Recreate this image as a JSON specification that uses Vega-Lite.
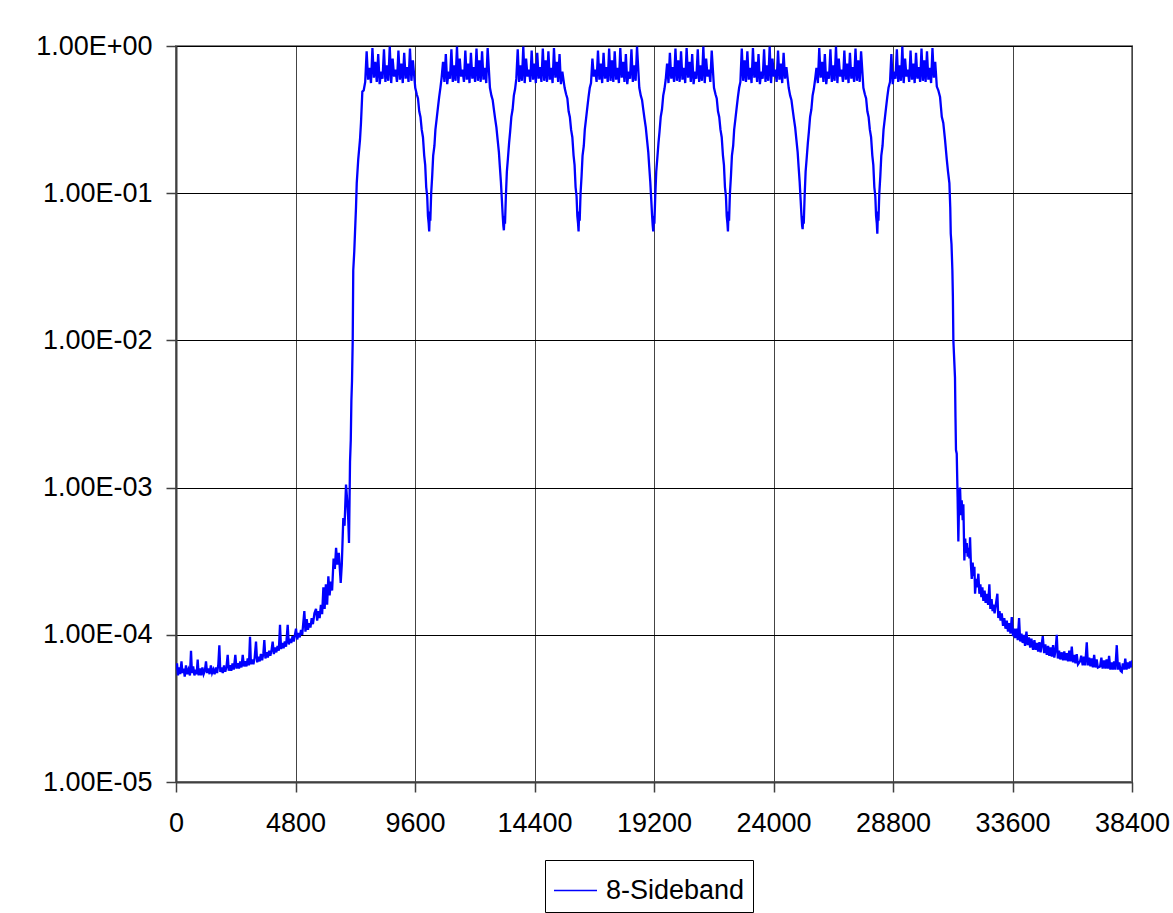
{
"$schema": "https://vega.github.io/schema/vega-lite/v6.json",
"width": 956, "height": 736,
"autosize": {"type": "none"},
"padding": {"left": 176, "top": 46, "right": 41, "bottom": 131},
"background": "white",
"config": {"view": {"stroke": "#808080", "strokeWidth": 2}, "font": "Liberation Sans"},
"data": {"values": [
{"x":0,"y":5.8e-5},{"x":40,"y":6.4e-5},{"x":80,"y":5.3e-5},{"x":130,"y":6.0e-5},{"x":170,"y":5.4e-5},{"x":220,"y":6.6e-5},{"x":260,"y":5.5e-5},{"x":310,"y":5.9e-5},{"x":350,"y":5.2e-5},{"x":400,"y":6.2e-5},{"x":450,"y":5.4e-5},{"x":500,"y":5.8e-5},{"x":560,"y":5.3e-5},{"x":603,"y":7.8e-5},{"x":640,"y":5.5e-5},{"x":690,"y":6.1e-5},{"x":740,"y":5.3e-5},{"x":790,"y":5.8e-5},{"x":830,"y":5.4e-5},{"x":871,"y":6.8e-5},{"x":910,"y":5.3e-5},{"x":960,"y":5.9e-5},{"x":1010,"y":5.3e-5},{"x":1060,"y":6.0e-5},{"x":1110,"y":5.4e-5},{"x":1160,"y":5.7e-5},{"x":1205,"y":6.6e-5},{"x":1250,"y":5.5e-5},{"x":1300,"y":5.9e-5},{"x":1350,"y":5.4e-5},{"x":1400,"y":6.2e-5},{"x":1450,"y":5.5e-5},{"x":1500,"y":5.8e-5},{"x":1550,"y":5.4e-5},{"x":1600,"y":6.0e-5},{"x":1650,"y":5.5e-5},{"x":1700,"y":6.3e-5},{"x":1741,"y":8.5e-5},{"x":1780,"y":5.6e-5},{"x":1830,"y":6.0e-5},{"x":1880,"y":5.5e-5},{"x":1930,"y":6.2e-5},{"x":1980,"y":5.6e-5},{"x":2030,"y":6.1e-5},{"x":2076,"y":7.3e-5},{"x":2120,"y":5.7e-5},{"x":2170,"y":6.2e-5},{"x":2220,"y":5.7e-5},{"x":2270,"y":6.4e-5},{"x":2320,"y":5.8e-5},{"x":2383,"y":7.3e-5},{"x":2430,"y":5.9e-5},{"x":2480,"y":6.4e-5},{"x":2530,"y":5.9e-5},{"x":2580,"y":6.6e-5},{"x":2630,"y":6.0e-5},{"x":2680,"y":7.3e-5},{"x":2730,"y":6.1e-5},{"x":2780,"y":6.6e-5},{"x":2830,"y":6.1e-5},{"x":2880,"y":6.9e-5},{"x":2930,"y":6.2e-5},{"x":2973,"y":9.7e-5},{"x":3010,"y":6.3e-5},{"x":3060,"y":6.8e-5},{"x":3110,"y":6.3e-5},{"x":3160,"y":7.0e-5},{"x":3214,"y":9.0e-5},{"x":3260,"y":6.5e-5},{"x":3310,"y":7.1e-5},{"x":3360,"y":6.6e-5},{"x":3410,"y":7.4e-5},{"x":3460,"y":6.7e-5},{"x":3510,"y":7.5e-5},{"x":3548,"y":9.2e-5},{"x":3590,"y":6.9e-5},{"x":3640,"y":7.6e-5},{"x":3690,"y":7.0e-5},{"x":3740,"y":7.8e-5},{"x":3790,"y":7.2e-5},{"x":3840,"y":7.9e-5},{"x":3883,"y":9.0e-5},{"x":3930,"y":7.4e-5},{"x":3980,"y":8.2e-5},{"x":4030,"y":7.6e-5},{"x":4080,"y":8.4e-5},{"x":4130,"y":7.8e-5},{"x":4178,"y":1.17e-4},{"x":4220,"y":8.0e-5},{"x":4270,"y":8.8e-5},{"x":4320,"y":8.1e-5},{"x":4370,"y":9.0e-5},{"x":4420,"y":8.3e-5},{"x":4486,"y":1.17e-4},{"x":4530,"y":8.6e-5},{"x":4580,"y":9.4e-5},{"x":4630,"y":8.8e-5},{"x":4680,"y":9.8e-5},{"x":4730,"y":9.0e-5},{"x":4820,"y":1.1e-4},{"x":4870,"y":9.3e-5},{"x":4920,"y":1.03e-4},{"x":4970,"y":9.6e-5},{"x":5020,"y":1.08e-4},{"x":5070,"y":1.0e-4},{"x":5155,"y":1.45e-4},{"x":5200,"y":1.05e-4},{"x":5250,"y":1.28e-4},{"x":5300,"y":1.08e-4},{"x":5350,"y":1.2e-4},{"x":5400,"y":1.12e-4},{"x":5450,"y":1.3e-4},{"x":5500,"y":1.18e-4},{"x":5560,"y":1.4e-4},{"x":5624,"y":1.5e-4},{"x":5670,"y":1.25e-4},{"x":5720,"y":1.45e-4},{"x":5770,"y":1.3e-4},{"x":5820,"y":1.6e-4},{"x":5870,"y":1.38e-4},{"x":5920,"y":2.1e-4},{"x":5970,"y":1.5e-4},{"x":6020,"y":2.2e-4},{"x":6070,"y":1.6e-4},{"x":6120,"y":2.5e-4},{"x":6170,"y":1.85e-4},{"x":6220,"y":2.3e-4},{"x":6270,"y":2.0e-4},{"x":6330,"y":3.3e-4},{"x":6380,"y":2.8e-4},{"x":6430,"y":3.9e-4},{"x":6480,"y":3.0e-4},{"x":6540,"y":3.6e-4},{"x":6616,"y":2.25e-4},{"x":6660,"y":3.0e-4},{"x":6720,"y":6.2e-4},{"x":6770,"y":5.5e-4},{"x":6829,"y":1.05e-3},{"x":6880,"y":8e-4},{"x":6920,"y":6e-4},{"x":6949,"y":4.2e-4},{"x":6990,"y":1.5e-3},{"x":7020,"y":2.1e-3},{"x":7045,"y":3.9e-3},{"x":7070,"y":5.3e-3},{"x":7098,"y":1.0e-2},{"x":7120,"y":3.0e-2},{"x":7160,"y":4.0e-2},{"x":7190,"y":5.4e-2},{"x":7230,"y":8.0e-2},{"x":7260,"y":0.117},{"x":7320,"y":0.17},{"x":7390,"y":0.23},{"x":7430,"y":0.3},{"x":7485,"y":0.49},{"x":7540,"y":0.5},
{"x":7600,"y":0.57},{"x":7658,"y":0.92},{"x":7716,"y":0.59},{"x":7774,"y":0.71},{"x":7832,"y":0.56},{"x":7890,"y":0.97},{"x":7948,"y":0.61},{"x":8006,"y":0.78},{"x":8064,"y":0.57},{"x":8122,"y":0.88},{"x":8180,"y":0.55},{"x":8238,"y":0.67},{"x":8296,"y":0.60},{"x":8354,"y":0.95},{"x":8412,"y":0.57},{"x":8470,"y":0.74},{"x":8528,"y":0.58},{"x":8586,"y":0.99},{"x":8644,"y":0.56},{"x":8702,"y":0.82},{"x":8760,"y":0.62},{"x":8818,"y":0.69},{"x":8876,"y":0.57},{"x":8934,"y":0.93},{"x":8992,"y":0.59},{"x":9050,"y":0.76},{"x":9108,"y":0.56},{"x":9166,"y":0.90},{"x":9224,"y":0.60},{"x":9282,"y":0.72},{"x":9340,"y":0.57},{"x":9398,"y":0.96},{"x":9456,"y":0.58},{"x":9514,"y":0.80},
{"x":9610,"y":0.52},{"x":9670,"y":0.47},{"x":9720,"y":0.44},{"x":9770,"y":0.36},{"x":9820,"y":0.33},{"x":9870,"y":0.27},{"x":9920,"y":0.24},{"x":9970,"y":0.18},{"x":10010,"y":0.155},{"x":10050,"y":0.11},{"x":10090,"y":0.095},{"x":10120,"y":0.07},{"x":10150,"y":0.062},{"x":10170,"y":0.055},{"x":10195,"y":0.075},{"x":10215,"y":0.065},{"x":10250,"y":0.1},{"x":10290,"y":0.13},{"x":10330,"y":0.18},{"x":10380,"y":0.21},{"x":10420,"y":0.27},{"x":10470,"y":0.32},{"x":10520,"y":0.38},{"x":10570,"y":0.45},{"x":10620,"y":0.52},
{"x":10670,"y":0.61},{"x":10726,"y":0.78},{"x":10782,"y":0.57},{"x":10838,"y":0.88},{"x":10894,"y":0.55},{"x":10950,"y":0.67},{"x":11006,"y":0.60},{"x":11062,"y":0.95},{"x":11118,"y":0.57},{"x":11174,"y":0.74},{"x":11230,"y":0.58},{"x":11286,"y":0.99},{"x":11342,"y":0.56},{"x":11398,"y":0.82},{"x":11454,"y":0.62},{"x":11510,"y":0.69},{"x":11566,"y":0.57},{"x":11622,"y":0.93},{"x":11678,"y":0.59},{"x":11734,"y":0.76},{"x":11790,"y":0.56},{"x":11846,"y":0.90},{"x":11902,"y":0.60},{"x":11958,"y":0.72},{"x":12014,"y":0.57},{"x":12070,"y":0.96},{"x":12126,"y":0.58},{"x":12182,"y":0.80},{"x":12238,"y":0.57},{"x":12294,"y":0.92},{"x":12350,"y":0.59},{"x":12406,"y":0.71},{"x":12462,"y":0.56},{"x":12518,"y":0.97},
{"x":12610,"y":0.52},{"x":12670,"y":0.46},{"x":12720,"y":0.43},{"x":12770,"y":0.37},{"x":12820,"y":0.32},{"x":12870,"y":0.28},{"x":12920,"y":0.23},{"x":12970,"y":0.19},{"x":13010,"y":0.15},{"x":13050,"y":0.12},{"x":13090,"y":0.09},{"x":13120,"y":0.072},{"x":13150,"y":0.06},{"x":13170,"y":0.056},{"x":13195,"y":0.07},{"x":13215,"y":0.062},{"x":13250,"y":0.095},{"x":13290,"y":0.14},{"x":13330,"y":0.17},{"x":13380,"y":0.22},{"x":13420,"y":0.26},{"x":13470,"y":0.33},{"x":13520,"y":0.37},{"x":13570,"y":0.46},{"x":13620,"y":0.51},
{"x":13670,"y":0.60},{"x":13726,"y":0.95},{"x":13782,"y":0.57},{"x":13838,"y":0.74},{"x":13894,"y":0.58},{"x":13950,"y":0.99},{"x":14006,"y":0.56},{"x":14062,"y":0.82},{"x":14118,"y":0.62},{"x":14174,"y":0.69},{"x":14230,"y":0.57},{"x":14286,"y":0.93},{"x":14342,"y":0.59},{"x":14398,"y":0.76},{"x":14454,"y":0.56},{"x":14510,"y":0.90},{"x":14566,"y":0.60},{"x":14622,"y":0.72},{"x":14678,"y":0.57},{"x":14734,"y":0.96},{"x":14790,"y":0.58},{"x":14846,"y":0.80},{"x":14902,"y":0.57},{"x":14958,"y":0.92},{"x":15014,"y":0.59},{"x":15070,"y":0.71},{"x":15126,"y":0.56},{"x":15182,"y":0.97},{"x":15238,"y":0.61},{"x":15294,"y":0.78},{"x":15350,"y":0.57},{"x":15406,"y":0.88},{"x":15462,"y":0.55},{"x":15518,"y":0.67},
{"x":15610,"y":0.52},{"x":15670,"y":0.47},{"x":15720,"y":0.44},{"x":15770,"y":0.36},{"x":15820,"y":0.33},{"x":15870,"y":0.27},{"x":15920,"y":0.24},{"x":15970,"y":0.18},{"x":16010,"y":0.155},{"x":16050,"y":0.11},{"x":16090,"y":0.095},{"x":16120,"y":0.07},{"x":16150,"y":0.062},{"x":16170,"y":0.055},{"x":16195,"y":0.075},{"x":16215,"y":0.065},{"x":16250,"y":0.1},{"x":16290,"y":0.13},{"x":16330,"y":0.18},{"x":16380,"y":0.21},{"x":16420,"y":0.27},{"x":16470,"y":0.32},{"x":16520,"y":0.38},{"x":16570,"y":0.45},{"x":16620,"y":0.52},
{"x":16670,"y":0.56},{"x":16726,"y":0.82},{"x":16782,"y":0.62},{"x":16838,"y":0.69},{"x":16894,"y":0.57},{"x":16950,"y":0.93},{"x":17006,"y":0.59},{"x":17062,"y":0.76},{"x":17118,"y":0.56},{"x":17174,"y":0.90},{"x":17230,"y":0.60},{"x":17286,"y":0.72},{"x":17342,"y":0.57},{"x":17398,"y":0.96},{"x":17454,"y":0.58},{"x":17510,"y":0.80},{"x":17566,"y":0.57},{"x":17622,"y":0.92},{"x":17678,"y":0.59},{"x":17734,"y":0.71},{"x":17790,"y":0.56},{"x":17846,"y":0.97},{"x":17902,"y":0.61},{"x":17958,"y":0.78},{"x":18014,"y":0.57},{"x":18070,"y":0.88},{"x":18126,"y":0.55},{"x":18182,"y":0.67},{"x":18238,"y":0.60},{"x":18294,"y":0.95},{"x":18350,"y":0.57},{"x":18406,"y":0.74},{"x":18462,"y":0.58},{"x":18518,"y":0.99},
{"x":18610,"y":0.52},{"x":18670,"y":0.46},{"x":18720,"y":0.43},{"x":18770,"y":0.37},{"x":18820,"y":0.32},{"x":18870,"y":0.28},{"x":18920,"y":0.23},{"x":18970,"y":0.19},{"x":19010,"y":0.15},{"x":19050,"y":0.12},{"x":19090,"y":0.09},{"x":19120,"y":0.072},{"x":19150,"y":0.06},{"x":19170,"y":0.055},{"x":19195,"y":0.07},{"x":19215,"y":0.062},{"x":19250,"y":0.095},{"x":19290,"y":0.14},{"x":19330,"y":0.17},{"x":19380,"y":0.22},{"x":19420,"y":0.26},{"x":19470,"y":0.33},{"x":19520,"y":0.37},{"x":19570,"y":0.46},{"x":19620,"y":0.51},
{"x":19670,"y":0.59},{"x":19726,"y":0.76},{"x":19782,"y":0.56},{"x":19838,"y":0.90},{"x":19894,"y":0.60},{"x":19950,"y":0.72},{"x":20006,"y":0.57},{"x":20062,"y":0.96},{"x":20118,"y":0.58},{"x":20174,"y":0.80},{"x":20230,"y":0.57},{"x":20286,"y":0.92},{"x":20342,"y":0.59},{"x":20398,"y":0.71},{"x":20454,"y":0.56},{"x":20510,"y":0.97},{"x":20566,"y":0.61},{"x":20622,"y":0.78},{"x":20678,"y":0.57},{"x":20734,"y":0.88},{"x":20790,"y":0.55},{"x":20846,"y":0.67},{"x":20902,"y":0.60},{"x":20958,"y":0.95},{"x":21014,"y":0.57},{"x":21070,"y":0.74},{"x":21126,"y":0.58},{"x":21182,"y":0.99},{"x":21238,"y":0.56},{"x":21294,"y":0.82},{"x":21350,"y":0.62},{"x":21406,"y":0.69},{"x":21462,"y":0.57},{"x":21518,"y":0.93},
{"x":21610,"y":0.52},{"x":21670,"y":0.47},{"x":21720,"y":0.44},{"x":21770,"y":0.36},{"x":21820,"y":0.33},{"x":21870,"y":0.27},{"x":21920,"y":0.24},{"x":21970,"y":0.18},{"x":22010,"y":0.155},{"x":22050,"y":0.11},{"x":22090,"y":0.095},{"x":22120,"y":0.07},{"x":22150,"y":0.062},{"x":22170,"y":0.055},{"x":22195,"y":0.075},{"x":22215,"y":0.065},{"x":22250,"y":0.1},{"x":22290,"y":0.13},{"x":22330,"y":0.18},{"x":22380,"y":0.21},{"x":22420,"y":0.27},{"x":22470,"y":0.32},{"x":22520,"y":0.38},{"x":22570,"y":0.45},{"x":22620,"y":0.52},
{"x":22670,"y":0.57},{"x":22726,"y":0.96},{"x":22782,"y":0.58},{"x":22838,"y":0.80},{"x":22894,"y":0.57},{"x":22950,"y":0.92},{"x":23006,"y":0.59},{"x":23062,"y":0.71},{"x":23118,"y":0.56},{"x":23174,"y":0.97},{"x":23230,"y":0.61},{"x":23286,"y":0.78},{"x":23342,"y":0.57},{"x":23398,"y":0.88},{"x":23454,"y":0.55},{"x":23510,"y":0.67},{"x":23566,"y":0.60},{"x":23622,"y":0.95},{"x":23678,"y":0.57},{"x":23734,"y":0.74},{"x":23790,"y":0.58},{"x":23846,"y":0.99},{"x":23902,"y":0.56},{"x":23958,"y":0.82},{"x":24014,"y":0.62},{"x":24070,"y":0.69},{"x":24126,"y":0.57},{"x":24182,"y":0.93},{"x":24238,"y":0.59},{"x":24294,"y":0.76},{"x":24350,"y":0.56},{"x":24406,"y":0.90},{"x":24462,"y":0.60},{"x":24518,"y":0.72},
{"x":24610,"y":0.52},{"x":24670,"y":0.46},{"x":24720,"y":0.43},{"x":24770,"y":0.37},{"x":24820,"y":0.32},{"x":24870,"y":0.28},{"x":24920,"y":0.23},{"x":24970,"y":0.19},{"x":25010,"y":0.15},{"x":25050,"y":0.12},{"x":25090,"y":0.09},{"x":25120,"y":0.072},{"x":25150,"y":0.06},{"x":25170,"y":0.057},{"x":25195,"y":0.07},{"x":25215,"y":0.062},{"x":25250,"y":0.095},{"x":25290,"y":0.14},{"x":25330,"y":0.17},{"x":25380,"y":0.22},{"x":25420,"y":0.26},{"x":25470,"y":0.33},{"x":25520,"y":0.37},{"x":25570,"y":0.46},{"x":25620,"y":0.51},
{"x":25670,"y":0.59},{"x":25726,"y":0.71},{"x":25782,"y":0.56},{"x":25838,"y":0.97},{"x":25894,"y":0.61},{"x":25950,"y":0.78},{"x":26006,"y":0.57},{"x":26062,"y":0.88},{"x":26118,"y":0.55},{"x":26174,"y":0.67},{"x":26230,"y":0.60},{"x":26286,"y":0.95},{"x":26342,"y":0.57},{"x":26398,"y":0.74},{"x":26454,"y":0.58},{"x":26510,"y":0.99},{"x":26566,"y":0.56},{"x":26622,"y":0.82},{"x":26678,"y":0.62},{"x":26734,"y":0.69},{"x":26790,"y":0.57},{"x":26846,"y":0.93},{"x":26902,"y":0.59},{"x":26958,"y":0.76},{"x":27014,"y":0.56},{"x":27070,"y":0.90},{"x":27126,"y":0.60},{"x":27182,"y":0.72},{"x":27238,"y":0.57},{"x":27294,"y":0.96},{"x":27350,"y":0.58},{"x":27406,"y":0.80},{"x":27462,"y":0.57},{"x":27518,"y":0.92},
{"x":27610,"y":0.52},{"x":27670,"y":0.47},{"x":27720,"y":0.44},{"x":27770,"y":0.36},{"x":27820,"y":0.33},{"x":27870,"y":0.27},{"x":27920,"y":0.24},{"x":27970,"y":0.18},{"x":28010,"y":0.155},{"x":28050,"y":0.11},{"x":28090,"y":0.095},{"x":28120,"y":0.07},{"x":28150,"y":0.062},{"x":28170,"y":0.053},{"x":28195,"y":0.075},{"x":28215,"y":0.065},{"x":28250,"y":0.1},{"x":28290,"y":0.13},{"x":28330,"y":0.18},{"x":28380,"y":0.21},{"x":28420,"y":0.27},{"x":28470,"y":0.32},{"x":28520,"y":0.38},{"x":28570,"y":0.45},{"x":28620,"y":0.52},
{"x":28680,"y":0.57},{"x":28735,"y":0.88},{"x":28790,"y":0.55},{"x":28845,"y":0.67},{"x":28900,"y":0.60},{"x":28955,"y":0.95},{"x":29010,"y":0.57},{"x":29065,"y":0.74},{"x":29120,"y":0.58},{"x":29175,"y":0.99},{"x":29230,"y":0.56},{"x":29285,"y":0.82},{"x":29340,"y":0.62},{"x":29395,"y":0.69},{"x":29450,"y":0.57},{"x":29505,"y":0.93},{"x":29560,"y":0.59},{"x":29615,"y":0.76},{"x":29670,"y":0.56},{"x":29725,"y":0.90},{"x":29780,"y":0.60},{"x":29835,"y":0.72},{"x":29890,"y":0.57},{"x":29945,"y":0.96},{"x":30000,"y":0.58},{"x":30055,"y":0.80},{"x":30110,"y":0.57},{"x":30165,"y":0.92},{"x":30220,"y":0.59},{"x":30275,"y":0.71},{"x":30330,"y":0.56},{"x":30385,"y":0.97},{"x":30440,"y":0.61},{"x":30495,"y":0.78},
{"x":30560,"y":0.53},{"x":30620,"y":0.5},{"x":30690,"y":0.45},{"x":30760,"y":0.33},{"x":30820,"y":0.3},{"x":30890,"y":0.23},{"x":30960,"y":0.17},{"x":31010,"y":0.14},{"x":31065,"y":0.117},{"x":31100,"y":0.08},{"x":31120,"y":0.053},{"x":31150,"y":0.045},{"x":31185,"y":0.03},{"x":31205,"y":0.02},{"x":31225,"y":0.01},{"x":31250,"y":8e-3},{"x":31290,"y":5.6e-3},{"x":31310,"y":3e-3},{"x":31330,"y":1.8e-3},{"x":31360,"y":1.7e-3},{"x":31395,"y":8.6e-4},{"x":31425,"y":4.3e-4},
{"x":31460,"y":9e-4},{"x":31493,"y":1.0e-3},{"x":31530,"y":6.5e-4},{"x":31560,"y":8.2e-4},{"x":31600,"y":6e-4},{"x":31626,"y":7.7e-4},{"x":31666,"y":3.2e-4},{"x":31700,"y":4.5e-4},{"x":31735,"y":3.6e-4},{"x":31763,"y":4.2e-4},{"x":31800,"y":3.4e-4},{"x":31840,"y":3.9e-4},{"x":31870,"y":3.3e-4},{"x":31895,"y":4.6e-4},{"x":31930,"y":3.0e-4},{"x":31963,"y":2.4e-4},{"x":32000,"y":3.1e-4},{"x":32040,"y":2.5e-4},{"x":32070,"y":2.9e-4},{"x":32096,"y":1.9e-4},{"x":32140,"y":2.4e-4},{"x":32180,"y":2.1e-4},{"x":32229,"y":2.6e-4},{"x":32270,"y":1.9e-4},{"x":32310,"y":2.2e-4},{"x":32350,"y":1.8e-4},{"x":32390,"y":2.1e-4},{"x":32430,"y":1.7e-4},{"x":32480,"y":2.0e-4},{"x":32520,"y":1.65e-4},{"x":32570,"y":1.9e-4},{"x":32620,"y":1.6e-4},{"x":32671,"y":2.2e-4},{"x":32710,"y":1.5e-4},{"x":32760,"y":1.75e-4},{"x":32800,"y":1.45e-4},{"x":32831,"y":1.6e-4},{"x":32880,"y":1.4e-4},{"x":32930,"y":1.6e-4},{"x":32992,"y":1.9e-4},{"x":33030,"y":1.3e-4},{"x":33080,"y":1.45e-4},{"x":33120,"y":1.25e-4},{"x":33169,"y":1.4e-4},{"x":33220,"y":1.15e-4},{"x":33270,"y":1.3e-4},{"x":33320,"y":1.1e-4},{"x":33370,"y":1.25e-4},{"x":33420,"y":1.05e-4},{"x":33470,"y":1.2e-4},{"x":33520,"y":1.02e-4},{"x":33570,"y":1.32e-4},{"x":33620,"y":9.8e-5},{"x":33660,"y":1.1e-4},{"x":33703,"y":9.5e-5},{"x":33760,"y":1.1e-4},{"x":33810,"y":9.2e-5},{"x":33864,"y":1.3e-4},{"x":33910,"y":9.0e-5},{"x":33960,"y":1.02e-4},{"x":34010,"y":8.8e-5},{"x":34060,"y":1.0e-4},{"x":34104,"y":8.4e-5},{"x":34160,"y":1.05e-4},{"x":34210,"y":8.5e-5},{"x":34260,"y":9.6e-5},{"x":34310,"y":8.2e-5},{"x":34360,"y":9.4e-5},{"x":34426,"y":7.9e-5},{"x":34480,"y":9.2e-5},{"x":34530,"y":7.9e-5},{"x":34580,"y":8.8e-5},{"x":34630,"y":7.7e-5},{"x":34680,"y":8.9e-5},{"x":34730,"y":7.6e-5},{"x":34816,"y":9.8e-5},{"x":34870,"y":7.5e-5},{"x":34920,"y":8.6e-5},{"x":34977,"y":7.3e-5},{"x":35030,"y":8.4e-5},{"x":35080,"y":7.2e-5},{"x":35130,"y":8.2e-5},{"x":35180,"y":7.1e-5},{"x":35230,"y":8.5e-5},{"x":35280,"y":7.0e-5},{"x":35330,"y":7.9e-5},{"x":35378,"y":1.0e-4},{"x":35420,"y":6.9e-5},{"x":35470,"y":7.8e-5},{"x":35520,"y":6.8e-5},{"x":35580,"y":7.6e-5},{"x":35631,"y":6.7e-5},{"x":35680,"y":7.7e-5},{"x":35730,"y":6.7e-5},{"x":35780,"y":7.5e-5},{"x":35830,"y":6.6e-5},{"x":35880,"y":7.8e-5},{"x":35930,"y":6.6e-5},{"x":35981,"y":8.3e-5},{"x":36030,"y":6.5e-5},{"x":36080,"y":7.3e-5},{"x":36130,"y":6.4e-5},{"x":36180,"y":7.4e-5},{"x":36230,"y":6.3e-5},{"x":36314,"y":6.6e-5},{"x":36360,"y":7.2e-5},{"x":36420,"y":6.2e-5},{"x":36470,"y":7.1e-5},{"x":36520,"y":6.2e-5},{"x":36583,"y":8.9e-5},{"x":36630,"y":6.2e-5},{"x":36680,"y":7.0e-5},{"x":36730,"y":6.1e-5},{"x":36780,"y":6.9e-5},{"x":36830,"y":6.0e-5},{"x":36880,"y":7.3e-5},{"x":36930,"y":6.0e-5},{"x":36980,"y":6.8e-5},{"x":37030,"y":6.0e-5},{"x":37118,"y":6.1e-5},{"x":37170,"y":7.0e-5},{"x":37220,"y":5.9e-5},{"x":37280,"y":6.7e-5},{"x":37330,"y":5.9e-5},{"x":37380,"y":6.8e-5},{"x":37430,"y":5.9e-5},{"x":37480,"y":7.2e-5},{"x":37530,"y":5.8e-5},{"x":37580,"y":6.5e-5},{"x":37630,"y":5.8e-5},{"x":37680,"y":6.6e-5},{"x":37730,"y":5.8e-5},{"x":37788,"y":8.5e-5},{"x":37840,"y":5.8e-5},{"x":37890,"y":6.5e-5},{"x":37940,"y":5.7e-5},{"x":37989,"y":5.6e-5},{"x":38030,"y":6.4e-5},{"x":38080,"y":5.8e-5},{"x":38130,"y":6.9e-5},{"x":38180,"y":5.8e-5},{"x":38230,"y":6.5e-5},{"x":38280,"y":5.9e-5},{"x":38322,"y":6.6e-5},{"x":38360,"y":6.0e-5},{"x":38400,"y":6.7e-5}
]},
"mark": {"type": "line", "strokeWidth": 2.3, "clip": true},
"encoding": {
  "x": {"field": "x", "type": "quantitative",
    "scale": {"domain": [0, 38400], "nice": false, "zero": false},
    "axis": {"values": [0,4800,9600,14400,19200,24000,28800,33600,38400], "format": "d", "title": null,
      "grid": true, "gridColor": "#444444", "gridWidth": 1,
      "domainColor": "#404040", "domainWidth": 2, "tickColor": "#404040", "tickSize": 10, "tickWidth": 1.5,
      "labelFontSize": 27, "labelFont": "Liberation Sans", "labelColor": "#000000", "labelPadding": 18,
      "labelFlush": false, "labelOverlap": false}},
  "y": {"field": "y", "type": "quantitative",
    "scale": {"type": "log", "domain": [0.00001, 1], "nice": false},
    "axis": {"values": [0.00001,0.0001,0.001,0.01,0.1,1], "title": null,
      "labelExpr": "'1.00E' + (datum.value >= 1 ? '+' : '-') + '0' + abs(round(log(datum.value)/LN10))",
      "grid": true, "gridColor": "#000000", "gridWidth": 1,
      "domainColor": "#404040", "domainWidth": 2, "tickColor": "#404040", "tickSize": 10, "tickWidth": 1.5,
      "labelFontSize": 27, "labelFont": "Liberation Sans", "labelColor": "#000000", "labelPadding": 14,
      "labelFlush": false, "labelOverlap": false}},
  "color": {"datum": "8-Sideband", "scale": {"range": ["#0000ff"]},
    "legend": {"orient": "none", "legendX": 369, "legendY": 814, "title": null,
      "strokeColor": "#000000", "fillColor": "#ffffff", "padding": 8,
      "symbolType": "stroke", "symbolSize": 1849, "symbolStrokeWidth": 1.5,
      "labelFontSize": 27, "labelFont": "Liberation Sans", "labelColor": "#000000", "labelOffset": 8}}
}
}
